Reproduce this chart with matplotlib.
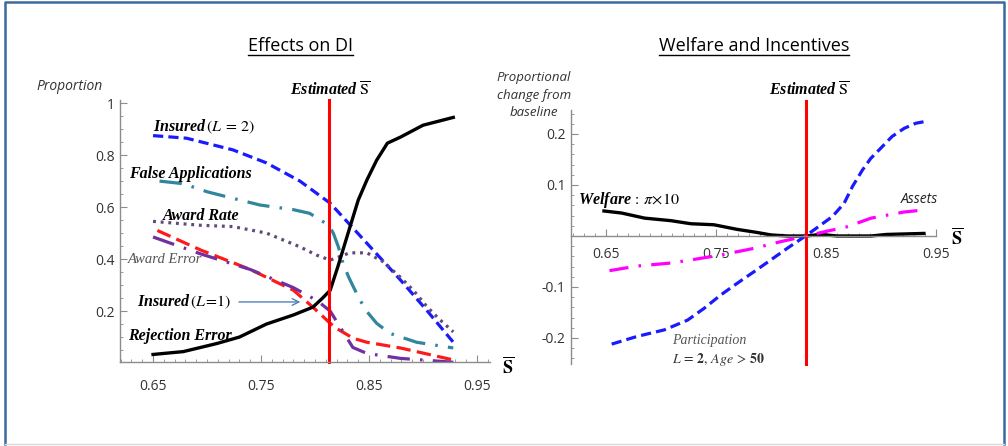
import matplotlib
matplotlib.use("Agg")
import matplotlib.pyplot as plt
from matplotlib.lines import Line2D
from matplotlib.ticker import MultipleLocator, FixedLocator

plt.rcParams['mathtext.fontset'] = 'stix'

# ---------------- Data: left panel (Effects on DI) ----------------
ins2_x = [0.65, 0.681, 0.724, 0.755, 0.786, 0.814, 0.835, 0.857, 0.879, 0.904, 0.928]
ins2_y = [0.875, 0.865, 0.82, 0.77, 0.70, 0.615, 0.52, 0.42, 0.32, 0.20, 0.08]

false_x = [0.656, 0.678, 0.700, 0.718, 0.749, 0.78, 0.795, 0.8124, 0.817, 0.8216, 0.826, 0.831,
           0.8355, 0.8417, 0.848, 0.857, 0.8694, 0.894, 0.928]
false_y = [0.70, 0.69, 0.659, 0.64, 0.608, 0.59, 0.576, 0.531, 0.499, 0.447, 0.383, 0.332,
           0.293, 0.242, 0.198, 0.153, 0.114, 0.08, 0.058]

rate_x = [0.65, 0.694, 0.724, 0.755, 0.786, 0.8016, 0.814, 0.82, 0.832, 0.848, 0.863, 0.879,
          0.891, 0.904, 0.916, 0.928]
rate_y = [0.545, 0.53, 0.525, 0.50, 0.447, 0.415, 0.396, 0.405, 0.424, 0.424, 0.39, 0.33,
          0.28, 0.215, 0.165, 0.12]

awerr_x = [0.654, 0.694, 0.74, 0.78, 0.798, 0.814, 0.82, 0.8355, 0.848, 0.879, 0.928]
awerr_y = [0.51, 0.435, 0.36, 0.28, 0.215, 0.153, 0.133, 0.095, 0.08, 0.058, 0.012]

rejerr_x = [0.65, 0.694, 0.74, 0.78, 0.802, 0.814, 0.823, 0.835, 0.848, 0.879, 0.928]
rejerr_y = [0.485, 0.42, 0.36, 0.29, 0.24, 0.20, 0.14, 0.06, 0.037, 0.018, 0.003]

ins1_x = [0.65, 0.678, 0.709, 0.73, 0.755, 0.78, 0.798, 0.807, 0.814, 0.821, 0.8306, 0.840,
          0.848, 0.857, 0.867, 0.879, 0.90, 0.928]
ins1_y = [0.033, 0.044, 0.075, 0.10, 0.15, 0.185, 0.215, 0.25, 0.28, 0.369, 0.50, 0.627,
          0.704, 0.78, 0.846, 0.869, 0.915, 0.945]

est_left = 0.813

# ---------------- Data: right panel (Welfare and Incentives) ----------------
welf_x = [0.648, 0.664, 0.685, 0.709, 0.727, 0.748, 0.769, 0.787, 0.80, 0.815, 0.832, 0.845,
          0.86, 0.891, 0.905, 0.939]
welf_y = [0.049, 0.045, 0.035, 0.03, 0.024, 0.022, 0.013, 0.007, 0.002, 0.0, 0.0, 0.003,
          0.0, 0.0, 0.003, 0.005]

part_x = [0.655, 0.678, 0.703, 0.724, 0.739, 0.754, 0.769, 0.7845, 0.7997, 0.8148, 0.832,
          0.8557, 0.8664, 0.874, 0.883, 0.8906, 0.8997, 0.910, 0.921, 0.9316, 0.939]
part_y = [-0.212, -0.197, -0.184, -0.165, -0.142, -0.116, -0.093, -0.070, -0.047, -0.024, 0.001,
          0.038, 0.064, 0.097, 0.129, 0.152, 0.172, 0.195, 0.211, 0.221, 0.224]

asset_x = [0.653, 0.678, 0.709, 0.727, 0.755, 0.785, 0.809, 0.832, 0.848, 0.869, 0.891, 0.921, 0.939]
asset_y = [-0.068, -0.059, -0.053, -0.047, -0.037, -0.024, -0.011, 0.0, 0.008, 0.018, 0.035, 0.047, 0.051]

est_right = 0.832

xticks = [0.65, 0.75, 0.85, 0.95]
xtick_labels = ['0.65', '0.75', '0.85', '0.95']
left_yticks = [0.2, 0.4, 0.6, 0.8, 1.0]
left_ytick_labels = ['0.2', '0.4', '0.6', '0.8', '1']
right_yticks = [-0.2, -0.1, 0.1, 0.2]
right_ytick_labels = ['-0.2', '-0.1', '0.1', '0.2']

# ---------------- Figure ----------------
W, H = 1008, 446
fig = plt.figure(figsize=(W / 100, H / 100), dpi=100)
fig.patch.set_facecolor('white')

SANS = 'Open Sans'
SERIF = 'Liberation Serif'
AX_COL = '#8c8c8c'
TICK_COL = '#333333'


def style_axes(ax):
    for s in ['top', 'right']:
        ax.spines[s].set_visible(False)
    for s in ['left', 'bottom']:
        ax.spines[s].set_color(AX_COL)
        ax.spines[s].set_linewidth(1.0)
    ax.tick_params(which='both', direction='in', colors=AX_COL, labelcolor=TICK_COL)
    ax.tick_params(which='major', length=5, width=0.8, labelsize=10)
    ax.tick_params(which='minor', length=2.5, width=0.6)
    ax.patch.set_alpha(0)


# ---- Left axes ----
axL = fig.add_axes([120 / W, (H - 362) / H, 370 / W, 262 / H])
axL.set_xlim(0.6194, 0.962)
axL.set_ylim(0.004, 1.012)

LW = 2.3
axL.plot(ins2_x, ins2_y, color='#1a1aff', lw=LW, dashes=(3.2, 1.6))
axL.plot(false_x, false_y, color='#31859c', lw=LW, dashes=(7, 3.2, 0.8, 3.2))
axL.plot(rate_x, rate_y, color='#604a7b', lw=LW, dashes=(0.9, 1.5))
axL.plot(awerr_x, awerr_y, color='#ff1a1a', lw=LW, dashes=(4.5, 2))
axL.plot(rejerr_x, rejerr_y, color='#7030a0', lw=LW, dashes=(7, 3.2, 0.8, 3.2))
axL.plot(ins1_x, ins1_y, color='black', lw=2.4, solid_joinstyle='round')
axL.plot([est_left, est_left], [0.004, 1.012], color='#ff0000', lw=2.2, clip_on=False)

style_axes(axL)
axL.xaxis.set_major_locator(FixedLocator(xticks))
axL.set_xticklabels(xtick_labels)
axL.xaxis.set_minor_locator(MultipleLocator(0.01))
axL.yaxis.set_major_locator(FixedLocator(left_yticks))
axL.set_yticklabels(left_ytick_labels)
axL.yaxis.set_minor_locator(MultipleLocator(0.05))
axL.tick_params(axis='x', pad=12)
axL.tick_params(axis='y', pad=4)
for lab in axL.get_xticklabels() + axL.get_yticklabels():
    lab.set_fontfamily(SANS)

lab_kw = dict(fontfamily=SERIF, fontweight='bold', fontstyle='italic', fontsize=11.5,
              color='black', va='center', ha='left', clip_on=False)
axL.text(0.650, 0.91, r'Insured$\,(L\,=\,2)$', **lab_kw)
axL.text(0.628, 0.727, 'False Applications', **lab_kw)
axL.text(0.659, 0.565, 'Award Rate', **lab_kw)
axL.text(0.627, 0.40, 'Award Error', fontfamily=SERIF, fontstyle='italic', fontsize=10.5,
         color='#555555', va='center', ha='left')
axL.text(0.635, 0.235, r'Insured$\,(L\!=\!1)$', **lab_kw)
axL.text(0.627, 0.104, 'Rejection Error', **lab_kw)
axL.text(0.777, 1.045, r'Estimated $\overline{\mathrm{S}}$', **lab_kw)
axL.annotate('', xy=(0.789, 0.235), xytext=(0.727, 0.235),
             arrowprops=dict(arrowstyle='->', color='#4f81bd', lw=1.0, mutation_scale=12))

# ---- Right axes ----
axR = fig.add_axes([571 / W, (H - 364) / H, 365 / W, 254 / H])
axR.set_xlim(0.618, 0.950)
axR.set_ylim(-0.251, 0.247)

axR.plot(welf_x, welf_y, color='black', lw=2.4)
axR.plot(part_x, part_y, color='#1a1aff', lw=LW, dashes=(3.2, 1.6))
axR.plot(asset_x, asset_y, color='#ff00ff', lw=LW, dashes=(6, 3.2, 0.8, 3.2))
axR.plot([est_right, est_right], [-0.251, 0.265], color='#ff0000', lw=2.2, clip_on=False)

style_axes(axR)
axR.spines['bottom'].set_position(('data', 0))
axR.xaxis.set_major_locator(FixedLocator(xticks))
axR.set_xticklabels(xtick_labels)
axR.xaxis.set_minor_locator(MultipleLocator(0.01))
axR.yaxis.set_major_locator(FixedLocator(right_yticks))
axR.set_yticklabels(right_ytick_labels)
axR.yaxis.set_minor_locator(MultipleLocator(0.02))
axR.tick_params(axis='x', pad=8)
axR.tick_params(axis='y', pad=4)
for lab in axR.get_xticklabels() + axR.get_yticklabels():
    lab.set_fontfamily(SANS)

axR.text(0.798, 0.284, r'Estimated $\overline{\mathrm{S}}$', **lab_kw)
axR.text(0.624, 0.071, r'Welfare$\,:\,\pi\!\times\!10$', **lab_kw)
axR.text(0.918, 0.071, 'Assets', fontfamily=SANS, fontstyle='italic', fontsize=10,
         color='#222222', va='center', ha='left')
axR.text(0.710, -0.204, 'Participation', fontfamily=SERIF, fontstyle='italic', fontsize=10,
         color='#555555', va='center', ha='left')
axR.text(0.710, -0.243, r'$L\,=\,\mathbf{2},\,Age\,>\,\mathbf{50}$', fontsize=10,
         color='#333333', va='center', ha='left')

# ---- Figure-level texts ----
def fpx(x, y):
    return x / W, 1 - y / H

t1 = fig.text(*fpx(300, 46), 'Effects on DI', fontfamily=SANS, fontsize=13,
              color='black', ha='center', va='center')
t2 = fig.text(*fpx(754, 46), 'Welfare and Incentives', fontfamily=SANS, fontsize=13,
              color='black', ha='center', va='center')
fig.text(*fpx(70, 86), 'Proportion', fontfamily=SANS, fontstyle='italic', fontsize=10,
         color='#333333', ha='center', va='center')
for txt, yy in [('Proportional', 77), ('change from', 95), ('baseline', 113)]:
    fig.text(*fpx(534, yy), txt, fontfamily=SANS, fontstyle='italic', fontsize=9.5,
             color='#333333', ha='center', va='center')
fig.text(*fpx(508, 367), r'$\overline{\mathbf{S}}$', fontsize=13, color='black',
         ha='center', va='center')
fig.text(*fpx(957, 238), r'$\overline{\mathbf{S}}$', fontsize=13, color='black',
         ha='center', va='center')

# underline titles
fig.canvas.draw()
r = fig.canvas.get_renderer()
for t in (t1, t2):
    bb = t.get_window_extent(r)
    yline = (H - 55) / H
    fig.add_artist(Line2D([bb.x0 / W, bb.x1 / W], [yline, yline],
                          transform=fig.transFigure, color='black', lw=1.0))

# frame border: blue on left, top, right; light grey at bottom
bx0, bx1 = 5 / W, (W - 4) / W
by0, by1 = 2 / H, (H - 2) / H
fig.add_artist(Line2D([bx0, bx0, bx1, bx1], [by0, by1, by1, by0],
                      transform=fig.transFigure, color='#3d6a9e', lw=1.8))
fig.add_artist(Line2D([bx0, bx1], [by0, by0], transform=fig.transFigure,
                      color='#d9d9d9', lw=1.0))

fig.savefig('out.png', dpi=100, facecolor='white')
